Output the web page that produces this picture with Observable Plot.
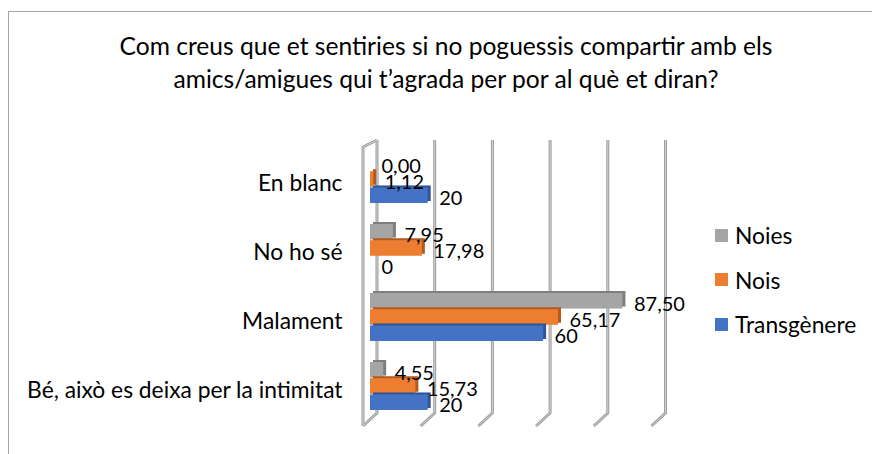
<!DOCTYPE html>
<html><head><meta charset="utf-8">
<script src="https://cdn.jsdelivr.net/npm/d3@7"></script>
<script src="https://cdn.jsdelivr.net/npm/@observablehq/plot@0.6"></script>
<style>
body{margin:0;background:#fff;overflow:hidden}
#wrap{position:relative;width:872px;height:454px;font-family:Lato,sans-serif;color:#000;overflow:hidden}
#border{position:absolute;left:8px;top:11px;width:900px;height:500px;border:1px solid #a6a6a6}
#title{position:absolute;left:0;width:892px;top:29px;text-align:center;font-size:24.6px;line-height:33px}
#chart{position:absolute;left:0;top:0}
#legend{position:absolute;left:715px;top:213px;font-size:22.8px}
.item{display:flex;align-items:center;height:44.5px;margin-top:0}
.sw{width:13px;height:13px;margin-right:7px}
</style></head>
<body>
<div id="wrap">
  <div id="border"></div>
  <div id="title">Com creus que et sentiries si no poguessis compartir amb els<br>amics/amigues qui t’agrada per por al què et diran?</div>
  <div id="chart"></div>
  <div id="legend"></div>
</div>
<script>
const categories = ["En blanc", "No ho sé", "Malament", "Bé, això es deixa per la intimitat"];
const series = ["Noies", "Nois", "Transgènere"];
const noies = [0.00, 7.95, 87.50, 4.55];
const nois = [1.12, 17.98, 65.17, 15.73];
const transgenere = [20, 0, 60, 20];
const decimals = [2, 2, 0];
const xTicks = [0, 20, 40, 60, 80, 100];
const colors = ["#a5a5a5", "#ed7d31", "#4472c4"];
const darkColors = ["#7f7f7f", "#b35a1f", "#2f5597"];

const W = 872, H = 454, mt = 133, mb = 22;
const values = [noies, nois, transgenere];
const rows = categories.flatMap((c, i) => series.map((s, j) => ({category: c, series: s, k: j, value: values[j][i]})));
const fmt = (v, d) => v.toFixed(d).replace(".", ",");

const yScale = Plot.scale({y: {type: "band", domain: categories, range: [mt, H - mb], padding: 0.3}});
const third = yScale.bandwidth / 3;

function walls(...args) {
  const sc = args.find(a => a && typeof a === "object" && typeof a.x === "function");
  const dims = args.find(a => a && typeof a === "object" && "marginTop" in a && "height" in a);
  const x = sc.x;
  const top = dims.marginTop + 7, bot = dims.height - dims.marginBottom - 19;
  const depth = 7, drop = 13;
  const g = d3.create("svg:g").attr("fill", "none");
  const paths = [];
  for (const t of xTicks) paths.push(`M${x(t) + depth},${top}V${bot}L${x(t) - depth},${bot + drop}`);
  paths.push(`M${x(0) + depth},${top}L${x(0) - depth},${top + 7}V${bot + drop}`);
  for (const p of paths) g.append("path").attr("d", p).attr("stroke", "#9c9c9c").attr("stroke-width", 3).attr("stroke-linejoin", "round");
  for (const p of paths) g.append("path").attr("d", p).attr("stroke", "#d4d4d4").attr("stroke-width", 1);
  return g.node();
}

const marks = [walls];
marks.push(Plot.text(categories, {y: d => d, frameAnchor: "left", textAnchor: "end", dx: -28, dy: 4, fontSize: 22.8, fill: "#000"}));
series.forEach((s, j) => {
  const data = rows.filter(d => d.k === j);
  const insets = {insetTop: j * third, insetBottom: (2 - j) * third};
  marks.push(Plot.barX(data, {x1: 0, x2: "value", y: "category", fill: darkColors[j], dx: 3, dy: -2, ...insets}));
  marks.push(Plot.barX(data, {x1: 0, x2: "value", y: "category", fill: colors[j], ...insets}));
});
series.forEach((s, j) => {
  const data = rows.filter(d => d.k === j);
  marks.push(Plot.text(data, {x: "value", y: "category", text: d => fmt(d.value, decimals[j]), textAnchor: "start", dx: 11, dy: (j - 1) * third + 3, fontSize: 20, fill: "#000"}));
});

const chart = Plot.plot({
  width: W, height: H,
  marginLeft: 370, marginRight: W - 658.5, marginTop: mt, marginBottom: mb,
  style: {fontFamily: "Lato, sans-serif", fontSize: "22.8px", color: "#000", background: "transparent", overflow: "visible"},
  x: {domain: [0, 100], range: [370, 658.5], axis: null},
  y: {domain: categories, range: [mt, H - mb], padding: 0.3, axis: null},
  marks
});
document.getElementById("chart").appendChild(chart);

const legend = d3.select("#legend");
series.forEach((s, j) => {
  const it = legend.append("div").attr("class", "item");
  it.append("div").attr("class", "sw").style("background", colors[j]);
  it.append("span").text(s);
});
</script>
</body></html>
